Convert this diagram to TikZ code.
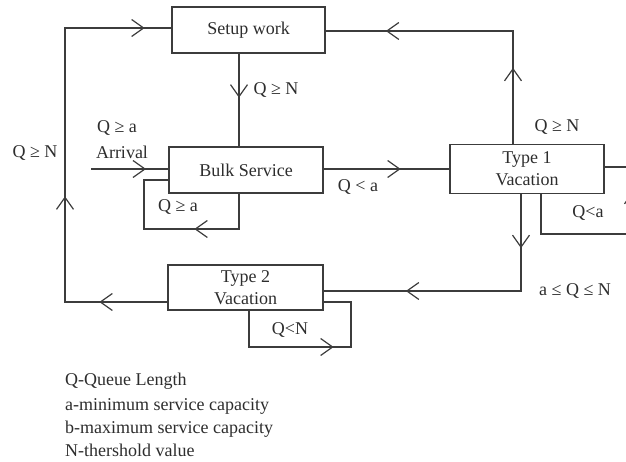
\documentclass[tikz,border=0pt]{standalone}
\usepackage{fontspec}
\setmainfont{Liberation Serif}
\usetikzlibrary{arrows.meta,decorations.markings}
\definecolor{ink}{RGB}{60,60,60}
\definecolor{txt}{RGB}{45,45,45}
\tikzset{
  box/.style={draw=ink,line width=1.3pt,rectangle,inner sep=0pt,align=center,text=txt,font=\fontsize{18}{22}\selectfont},
  conn/.style={draw=ink,line width=1.3pt},
  arr/.style={postaction={decorate,decoration={markings,mark=at position #1 with {\arrow[line width=1.2pt]{Straight Barb[length=12pt,width=17pt]}}}}},
  lbl/.style={text=txt,inner sep=0pt,font=\fontsize{18}{22}\selectfont},
}
\begin{document}
\begin{tikzpicture}[x=1pt,y=-1pt]
\useasboundingbox (0,0) rectangle (626,462);
\clip (0,0) rectangle (626,462);
% boxes
\node[box,minimum width=153pt,minimum height=46pt] (setup) at (248.5,30) {Setup work};
\node[box,minimum width=154pt,minimum height=46pt] (bulk) at (246,170) {Bulk Service};
\node[box,minimum width=154pt,minimum height=49pt] (t1) at (527,169) {Type 1\\Vacation};
\node[box,minimum width=155pt,minimum height=45pt] (t2) at (245.5,287.5) {Type 2\\Vacation};
% helper coordinates
\coordinate (L1) at (65,302);
\coordinate (L2) at (65,28);
\coordinate (C1) at (513,31);
\coordinate (X1) at (239,0);
\coordinate (arrin) at (91,169);
\coordinate (B1) at (239,229);
\coordinate (B2) at (144,229);
\coordinate (B3) at (144,180);
\coordinate (R0) at (541,0);
\coordinate (R1) at (541,234);
\coordinate (R2) at (633,234);
\coordinate (R3) at (633,167);
\coordinate (D0) at (521,0);
\coordinate (D1) at (521,291);
\coordinate (T0) at (249,0);
\coordinate (T1) at (249,347);
\coordinate (T2) at (351,347);
\coordinate (T3) at (351,302);
% connectors
\draw[conn,arr=68pt,arr=208pt,arr=456pt] (t2.west |- L1) -- (L1) -- (L2) -- (setup.west |- L2);
\draw[conn,arr=76pt,arr=240pt] (t1.north -| C1) -- (C1) -- (setup.east |- C1);
\draw[conn,arr=44pt] (setup.south -| X1) -- (bulk.north -| X1);
\draw[conn,arr=55pt] (arrin) -- (bulk.west |- arrin);
\draw[conn,arr=80pt] (bulk.south -| X1) -- (B1) -- (B2) -- (B3) -- (bulk.west |- B3);
\draw[conn,arr=77pt] (bulk.east |- arrin) -- (t1.west |- arrin);
\draw[conn,arr=175pt] (t1.south -| R0) -- (R1) -- (R2) -- (R3) -- (t1.east |- R3);
\draw[conn,arr=54pt,arr=212pt] (t1.south -| D0) -- (D1) -- (t2.east |- D1);
\draw[conn,arr=121pt] (t2.south -| T0) -- (T1) -- (T2) -- (T3) -- (t2.east |- T3);
% labels
\node[lbl] (l1) at (276,90) {Q ≥ N};
\node[lbl] (l2) at (117,128) {Q ≥ a};
\node[lbl] (l3) at (122,152) {Arrival};
\node[lbl] (l4) at (35,153) {Q ≥ N};
\node[lbl] (l5) at (178,207) {Q ≥ a};
\node[lbl] (l6) at (358,187) {Q < a};
\node[lbl] (l7) at (557,127) {Q ≥ N};
\node[lbl] (l8) at (588,213) {Q<a};
\node[lbl] (l9) at (575,291) {a ≤ Q ≤ N};
\node[lbl] (l10) at (290,330) {Q<N};
% legend
\node[lbl,anchor=base west] (g1) at (65,385) {Q-Queue Length};
\node[lbl,anchor=base west] (g2) at (65,410) {a-minimum service capacity};
\node[lbl,anchor=base west] (g3) at (65,433) {b-maximum service capacity};
\node[lbl,anchor=base west] (g4) at (65,456) {N-thershold value};
\end{tikzpicture}
\end{document}
